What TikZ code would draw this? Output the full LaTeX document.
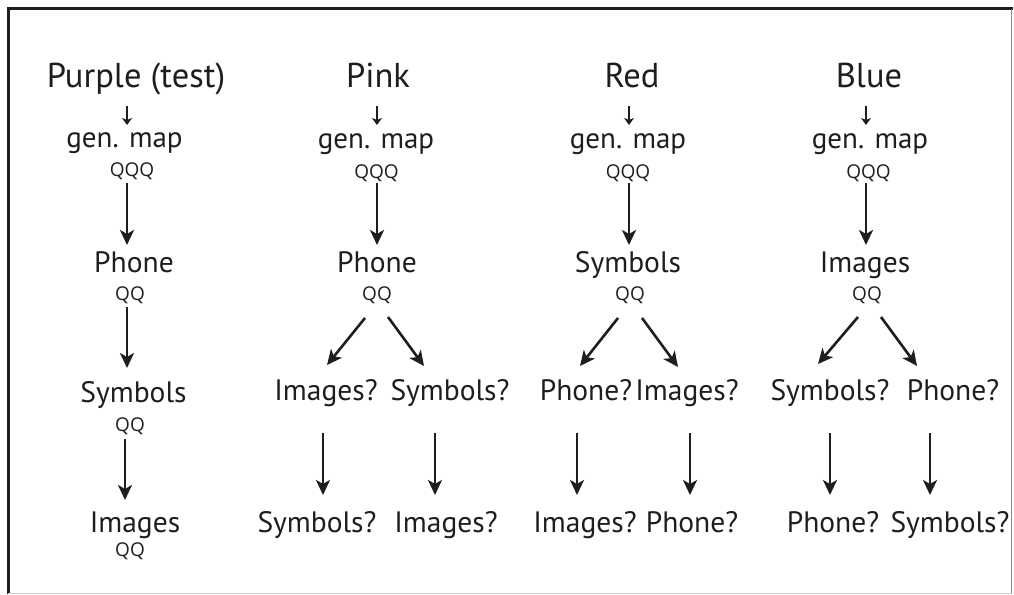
\documentclass[tikz,border=0pt]{standalone}
\usepackage{fontspec}
\setmainfont{PT Sans}
\newfontfamily\qfont{Open Sans}
\usetikzlibrary{arrows.meta,calc}
\definecolor{ink}{HTML}{1E1E1E}
\tikzset{
  lbl/.style={inner sep=0pt,anchor=base,text=ink,font=\fontsize{29.5}{31}\selectfont},
  ttl/.style={lbl,font=\fontsize{34.5}{36}\selectfont},
  gm/.style={lbl,font=\fontsize{29}{31}\selectfont},
  qq/.style={lbl,font=\qfont\fontsize{19}{21}\selectfont},
  bigarr/.style={draw=ink,line width=2.6pt,-{Stealth[length=15pt,width=14pt,inset=4pt]}},
  smallarr/.style={draw=ink,line width=1.8pt,-{Stealth[length=7pt,width=10pt,inset=2pt]}}
}
\begin{document}
\begin{tikzpicture}[x=1pt,y=-1pt]
\useasboundingbox (0,0) rectangle (1014,594);
\fill[white] (0,0) rectangle (1014,594);
% frame
\draw[line width=3pt,draw=ink] (8,594) -- (8,9) -- (1013,9);
\draw[line width=1pt,draw=black!45] (1011.5,9) -- (1011.5,594);
\draw[line width=0.8pt,draw=black!20] (8,593.5) -- (1011.5,593.5);

% ---- Column 1: Purple
\node[ttl] (t1) at (136,87) {Purple (test)};
\node[gm]  (g1) at (124.5,147) {gen. map};
\node[qq]  (q1) at (132,176) {QQQ};
\node[lbl] (p1) at (134,272) {Phone};
\node[qq]  (r1) at (130,300) {QQ};
\node[lbl] (s1) at (133.5,402) {Symbols};
\node[qq]  (u1) at (130,431) {QQ};
\node[lbl] (i1) at (135,532) {Images};
\node[qq]  (v1) at (130,556) {QQ};
\draw[smallarr] ($(t1.base)+(127-136,106-87)$) -- ($(g1.base)+(127-124.5,125-147)$);
\draw[bigarr] ($(q1.base)+(127-132,183-176)$) -- ($(p1.base)+(127-134,245-272)$);
\draw[bigarr] ($(r1.base)+(127-130,307-300)$) -- ($(s1.base)+(127-133.5,368-402)$);
\draw[bigarr] ($(u1.base)+(125-130,439-431)$) -- ($(i1.base)+(125-135,500-532)$);

% ---- Column 2: Pink
\node[ttl] (t2) at (378,87) {Pink};
\node[gm]  (g2) at (376,148) {gen. map};
\node[qq]  (q2) at (376.5,178) {QQQ};
\node[lbl] (p2) at (377,272) {Phone};
\node[qq]  (r2) at (377,300) {QQ};
\node[lbl] (a2) at (326,400) {Images?};
\node[lbl] (b2) at (450,400) {Symbols?};
\node[lbl] (c2) at (317,532) {Symbols?};
\node[lbl] (d2) at (446,532) {Images?};
\draw[smallarr] ($(t2.base)+(377-378,106-87)$) -- ($(g2.base)+(377-376,125-148)$);
\draw[bigarr] ($(q2.base)+(377-376.5,183-178)$) -- ($(p2.base)+(377-377,245-272)$);
\draw[bigarr] ($(r2.base)+(365-377,318-300)$) -- ($(a2.base)+(327-326,365-400)$);
\draw[bigarr] ($(r2.base)+(388-377,317-300)$) -- ($(b2.base)+(424-450,366-400)$);
\draw[bigarr] ($(a2.base)+(323-326,433-400)$) -- ($(c2.base)+(323-317,495-532)$);
\draw[bigarr] ($(b2.base)+(435-450,433-400)$) -- ($(d2.base)+(435-446,495-532)$);

% ---- Column 3: Red
\node[ttl] (t3) at (632,87) {Red};
\node[gm]  (g3) at (628,148) {gen. map};
\node[qq]  (q3) at (628,178) {QQQ};
\node[lbl] (p3) at (628,272) {Symbols};
\node[qq]  (r3) at (630,300) {QQ};
\node[lbl] (a3) at (586,400) {Phone?};
\node[lbl] (b3) at (687,400) {Images?};
\node[lbl] (c3) at (585,532) {Images?};
\node[lbl] (d3) at (692,532) {Phone?};
\draw[smallarr] ($(t3.base)+(629-632,106-87)$) -- ($(g3.base)+(629-628,125-148)$);
\draw[bigarr] ($(q3.base)+(629-628,183-178)$) -- ($(p3.base)+(629-628,245-272)$);
\draw[bigarr] ($(r3.base)+(618-630,318-300)$) -- ($(a3.base)+(580-586,366-400)$);
\draw[bigarr] ($(r3.base)+(642-630,318-300)$) -- ($(b3.base)+(678-687,367-400)$);
\draw[bigarr] ($(a3.base)+(577-586,433-400)$) -- ($(c3.base)+(577-585,495-532)$);
\draw[bigarr] ($(b3.base)+(690-687,433-400)$) -- ($(d3.base)+(690-692,495-532)$);

% ---- Column 4: Blue
\node[ttl] (t4) at (869,87) {Blue};
\node[gm]  (g4) at (870,148) {gen. map};
\node[qq]  (q4) at (868.5,178) {QQQ};
\node[lbl] (p4) at (865,272) {Images};
\node[qq]  (r4) at (867,300) {QQ};
\node[lbl] (a4) at (830,400) {Symbols?};
\node[lbl] (b4) at (953,400) {Phone?};
\node[lbl] (c4) at (833,532) {Phone?};
\node[lbl] (d4) at (950,532) {Symbols?};
\draw[smallarr] ($(t4.base)+(866-869,106-87)$) -- ($(g4.base)+(866-870,125-148)$);
\draw[bigarr] ($(q4.base)+(866-868.5,183-178)$) -- ($(p4.base)+(866-865,245-272)$);
\draw[bigarr] ($(r4.base)+(858-867,317-300)$) -- ($(a4.base)+(818-830,364-400)$);
\draw[bigarr] ($(r4.base)+(881-867,317-300)$) -- ($(b4.base)+(917-953,366-400)$);
\draw[bigarr] ($(a4.base)+(830-830,433-400)$) -- ($(c4.base)+(830-833,495-532)$);
\draw[bigarr] ($(b4.base)+(930-953,433-400)$) -- ($(d4.base)+(930-950,495-532)$);
\end{tikzpicture}
\end{document}
